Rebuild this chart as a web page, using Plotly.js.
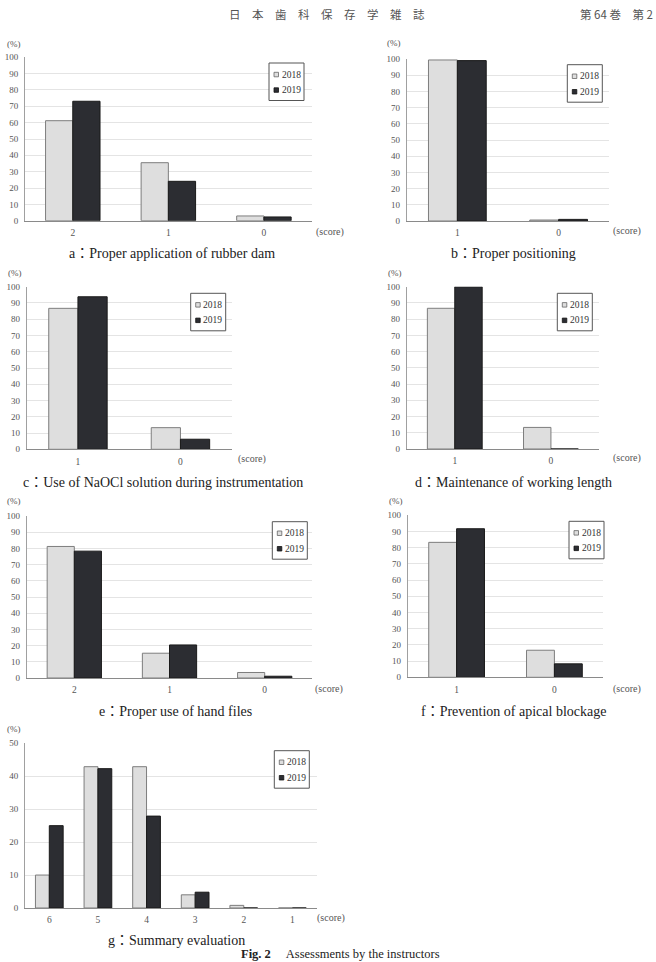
<!DOCTYPE html>
<html>
<head>
<meta charset="utf-8">
<script src="https://cdn.plot.ly/plotly-3.0.1.min.js"></script>
<style>html,body{margin:0;padding:0;background:#fff;}#chart{width:656px;height:962px;}</style>
</head>
<body>
<div id="chart"></div>
<script>
// ---------- data ----------
const catsA = ['2', '1', '0'];
const a2018 = [61.2, 35.5, 2.9];
const a2019 = [73.1, 24.1, 2.3];

const catsB = ['1', '0'];
const b2018 = [99.4, 0.6];
const b2019 = [99.0, 1.0];

const catsC = ['1', '0'];
const c2018 = [86.7, 13.3];
const c2019 = [93.8, 6.2];

const catsD = ['1', '0'];
const d2018 = [86.7, 13.3];
const d2019 = [100, 0];

const catsE = ['2', '1', '0'];
const e2018 = [81.2, 15.3, 3.4];
const e2019 = [78.3, 20.4, 1.1];

const catsF = ['1', '0'];
const f2018 = [83.3, 16.7];
const f2019 = [91.7, 8.3];

const catsG = ['6', '5', '4', '3', '2', '1'];
const g2018 = [10.0, 42.9, 42.9, 4.0, 0.8, 0];
const g2019 = [25.0, 42.3, 27.9, 4.8, 0, 0];

const seriesNames = ['2018', '2019'];
const captions = [
  'a：Proper application of rubber dam',
  'b：Proper positioning',
  'c：Use of NaOCl solution during instrumentation',
  'd：Maintenance of working length',
  'e：Proper use of hand files',
  'f：Prevention of apical blockage',
  'g：Summary evaluation'
];
const yMax = [100, 100, 100, 100, 100, 100, 50];
const headerLeft = '日　本　歯　科　保　存　学　雑　誌';
const headerRight = '第 64 巻　第 2';
const figLabel = '<b>Fig. 2</b>　 Assessments by the instructors';

// ---------- layout geometry (px) ----------
const W = 656, H = 962;
const panels = [
  {x0: 25,    x1: 311.7, y0: 57.3,  y1: 220.7, pct: [14, 44],  score: [330, 232], cap: [172, 253], leg: [269, 63]},
  {x0: 406.7, x1: 609.3, y0: 59,    y1: 221,   pct: [394, 43], score: [627, 231], cap: [513, 253], leg: [567.3, 64.7]},
  {x0: 26.7,  x1: 231.7, y0: 286.7, y1: 449.3, pct: [15, 273], score: [252, 459], cap: [163, 482], leg: [190.7, 293.3]},
  {x0: 406.7, x1: 599,   y0: 286.7, y1: 449,   pct: [395, 273], score: [627, 458], cap: [513, 482], leg: [557.3, 293.3]},
  {x0: 26.7,  x1: 312.3, y0: 516,   y1: 678,   pct: [14, 501], score: [329, 689], cap: [175, 711], leg: [272.3, 521.7]},
  {x0: 407.7, x1: 603.3, y0: 515.3, y1: 677.3, pct: [396, 501], score: [627, 689], cap: [513, 711], leg: [569, 521.3]},
  {x0: 25,    x1: 316.7, y0: 743.3, y1: 908,   pct: [14, 729], score: [331, 918], cap: [176, 940], leg: [274.3, 750.7]}
];
const px = v => v / W;
const py = v => 1 - v / H;

const SERIF = 'Liberation Serif, "Noto Sans CJK JP", serif';
const col2018 = '#dedede', line2018 = '#7d7d7d';
const col2019 = '#2c2d32', line2019 = '#1a1a1a';

const sets = [
  [catsA, a2018, a2019], [catsB, b2018, b2019], [catsC, c2018, c2019],
  [catsD, d2018, d2019], [catsE, e2018, e2019], [catsF, f2018, f2019],
  [catsG, g2018, g2019]
];

const data = [];
const layout = {
  width: W, height: H,
  margin: {l: 0, r: 0, t: 0, b: 0},
  paper_bgcolor: '#fff', plot_bgcolor: 'rgba(0,0,0,0)',
  showlegend: false,
  barmode: 'group', bargap: 0.43, bargroupgap: 0,
  font: {family: SERIF, color: '#444'},
  annotations: [], shapes: []
};

sets.forEach((s, i) => {
  const n = i === 0 ? '' : String(i + 1);
  const xa = 'x' + n, ya = 'y' + n;
  const p = panels[i];
  data.push({type: 'bar', x: s[0], y: s[1], name: seriesNames[0], xaxis: xa, yaxis: ya,
    marker: {color: col2018, line: {color: line2018, width: 1}}, hoverinfo: 'skip'});
  data.push({type: 'bar', x: s[0], y: s[2], name: seriesNames[1], xaxis: xa, yaxis: ya,
    marker: {color: col2019, line: {color: line2019, width: 1}}, hoverinfo: 'skip'});
  layout['xaxis' + n] = {
    domain: [px(p.x0), px(p.x1)], anchor: ya, type: 'category',
    showgrid: false, showline: true, linecolor: '#8a8a8a', linewidth: 1,
    ticks: '', ticklabelstandoff: 3, tickfont: {family: SERIF, size: 9.5, color: '#555'},
    zeroline: false, fixedrange: true
  };
  layout['yaxis' + n] = {
    domain: [py(p.y1), py(p.y0)], anchor: xa, range: [0, yMax[i]], dtick: 10,
    showgrid: true, gridcolor: '#e4e4e4', gridwidth: 1,
    showline: true, linecolor: '#a0a0a0', linewidth: 1,
    ticks: '', ticklabelstandoff: 4, tickfont: {family: SERIF, size: 9, color: '#555'},
    zeroline: false, fixedrange: true
  };
  // (%) and (score)
  layout.annotations.push({xref: 'paper', yref: 'paper', x: px(p.pct[0]), y: py(p.pct[1]),
    text: '(%)', showarrow: false, xanchor: 'center', yanchor: 'middle',
    font: {family: SERIF, size: 9, color: '#555'}});
  layout.annotations.push({xref: 'paper', yref: 'paper', x: px(p.score[0]), y: py(p.score[1]),
    text: '(score)', showarrow: false, xanchor: 'center', yanchor: 'middle',
    font: {family: SERIF, size: 10, color: '#555'}});
  layout.annotations.push({xref: 'paper', yref: 'paper', x: px(p.cap[0]), y: py(p.cap[1]),
    text: captions[i], showarrow: false, xanchor: 'center', yanchor: 'middle',
    font: {family: SERIF, size: 14, color: '#222'}});
  // legend box
  const L = p.leg[0], T = p.leg[1];
  layout.shapes.push({type: 'rect', xref: 'paper', yref: 'paper',
    x0: px(L), x1: px(L + 35), y0: py(T + 37.5), y1: py(T),
    line: {color: '#555', width: 1}, fillcolor: '#fff', layer: 'above'});
  [[col2018, line2018, 11.5], [col2019, line2019, 27]].forEach((c, k) => {
    layout.shapes.push({type: 'rect', xref: 'paper', yref: 'paper',
      x0: px(L + 5), x1: px(L + 9.5), y0: py(T + c[2] + 2.3), y1: py(T + c[2] - 2.2),
      line: {color: k === 0 ? '#666' : '#111', width: 0.8}, fillcolor: c[0], layer: 'above'});
    layout.annotations.push({xref: 'paper', yref: 'paper', x: px(L + 10.5), y: py(T + c[2]),
      text: seriesNames[k], showarrow: false, xanchor: 'left', yanchor: 'middle',
      font: {family: SERIF, size: 9.5, color: '#333'}});
  });
});

// header and figure label
layout.annotations.push({xref: 'paper', yref: 'paper', x: px(327), y: py(14),
  text: headerLeft, showarrow: false, xanchor: 'center', yanchor: 'middle',
  font: {family: '"Noto Sans CJK JP", sans-serif', size: 11.5, color: '#555'}});
layout.annotations.push({xref: 'paper', yref: 'paper', x: px(578), y: py(14),
  text: headerRight, showarrow: false, xanchor: 'left', yanchor: 'middle',
  font: {family: '"Noto Sans CJK JP", sans-serif', size: 11.5, color: '#555'}});
layout.annotations.push({xref: 'paper', yref: 'paper', x: px(340), y: py(954),
  text: figLabel, showarrow: false, xanchor: 'center', yanchor: 'middle',
  font: {family: SERIF, size: 12.5, color: '#222'}});

Plotly.newPlot('chart', data, layout, {staticPlot: true, displayModeBar: false});
</script>
</body>
</html>
